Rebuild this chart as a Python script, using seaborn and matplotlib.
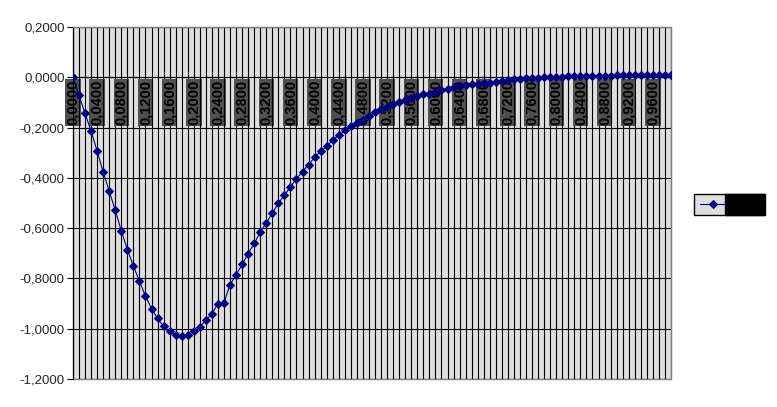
import numpy as np
import pandas as pd
import matplotlib
matplotlib.use("Agg")
import matplotlib.pyplot as plt
from matplotlib.ticker import FuncFormatter
from matplotlib.patches import Rectangle
import seaborn as sns

# values (one point per category, 100 categories)
values = [
    0.000, -0.072, -0.144, -0.215, -0.294, -0.377, -0.453, -0.529, -0.611, -0.685,
    -0.751, -0.811, -0.871, -0.920, -0.959, -0.991, -1.011, -1.026, -1.029, -1.026,
    -1.010, -0.993, -0.966, -0.940, -0.900, -0.896, -0.825, -0.786, -0.744, -0.701,
    -0.661, -0.616, -0.579, -0.540, -0.501, -0.469, -0.436, -0.403, -0.375, -0.347,
    -0.319, -0.294, -0.274, -0.250, -0.231, -0.211, -0.195, -0.183, -0.171, -0.155,
    -0.140, -0.128, -0.118, -0.107, -0.099, -0.089, -0.081, -0.074, -0.068, -0.065,
    -0.058, -0.049, -0.045, -0.039, -0.035, -0.031, -0.028, -0.025, -0.023, -0.021,
    -0.019, -0.015, -0.012, -0.008, -0.007, -0.004, -0.003, -0.001, 0.001, 0.002,
    0.003, 0.003, 0.004, 0.004, 0.005, 0.005, 0.006, 0.006, 0.007, 0.007,
    0.008, 0.008, 0.009, 0.009, 0.010, 0.010, 0.010, 0.011, 0.011, 0.011,
]
categories = list(range(len(values)))

# category labels (only every 4th one is shown, as in the reference)
cat_labels = [
    "0,0000", "0,0400", "0,0800", "0,1200", "0,1600", "0,2000", "0,2400",
    "0,2800", "0,3200", "0,3600", "0,4000", "0,4400", "0,4800", "0,5200",
    "0,5600", "0,6000", "0,6400", "0,6800", "0,7200", "0,7600", "0,8000",
    "0,8400", "0,8800", "0,9200", "0,9600",
]
series_name = "Série1"

df = pd.DataFrame({"x": categories, "y": values, "serie": series_name})

sns.set_style("white")
plt.rcParams["font.family"] = ["Liberation Sans", "DejaVu Sans"]

fig = plt.figure(figsize=(7.77, 4.07), dpi=100)
ax = fig.add_axes([73 / 777, 28 / 407, 598 / 777, 352 / 407])
ax.set_facecolor("#dedede")

sns.lineplot(data=df, x="x", y="y", hue="serie", palette=["#000080"],
             marker="D", markersize=4.5, markeredgecolor="#000080",
             linewidth=0.8, ax=ax, legend=True, zorder=3)

# excel style axes: category axis crosses at 0, grey plot-area border
# (spine position first: it resets the ticks)
ax.spines["bottom"].set_position(("data", 0))
ax.spines["bottom"].set_color("black")
ax.spines["left"].set_color("black")
for s in ["top", "right"]:
    ax.spines[s].set_color("#808080")
ax.add_patch(Rectangle((0, 0), 1, 1, transform=ax.transAxes, fill=False,
                       edgecolor="#808080", linewidth=1, clip_on=False, zorder=0))

ax.set_xlim(0, len(values) - 1)
ax.set_ylim(-1.2, 0.2)
ax.set_yticks(np.arange(-1.2, 0.21, 0.2))
ax.yaxis.set_major_formatter(FuncFormatter(
    lambda v, p: f"{0.0 if abs(v) < 1e-9 else v:.4f}".replace(".", ",")))

xt_labels = [cat_labels[i // 4] if i % 4 == 0 else "" for i in categories]
ax.set_xticks(categories)
ax.set_xticklabels(xt_labels, fontweight="bold", fontsize=10.5, color="black",
                   rotation=90, va="top", ha="center",
                   bbox=dict(facecolor="#505050", edgecolor="none", pad=0.5))
ax.tick_params(axis="x", length=0, pad=2)
ax.tick_params(axis="y", length=4, width=0.8, color="black", labelsize=9.5,
               direction="out", left=True, pad=2)
ax.set_xlabel("")
ax.set_ylabel("")

ax.grid(True, color="black", linewidth=0.8)
ax.set_axisbelow(True)

ax.get_legend().remove()
handles, labels = ax.get_legend_handles_labels()
leg = fig.legend(handles, labels, loc="center left",
                 bbox_to_anchor=(694 / 777, 0.4975), borderaxespad=0,
                 fancybox=False, frameon=True, facecolor="#dedede",
                 edgecolor="black", fontsize=7, handlelength=2.8,
                 borderpad=0.6, handletextpad=0.4, framealpha=1)
leg.get_frame().set_linewidth(1)
for t in leg.get_texts():
    t.set_color("black")
    t.set_backgroundcolor("black")

fig.savefig("out.png", dpi=100)
